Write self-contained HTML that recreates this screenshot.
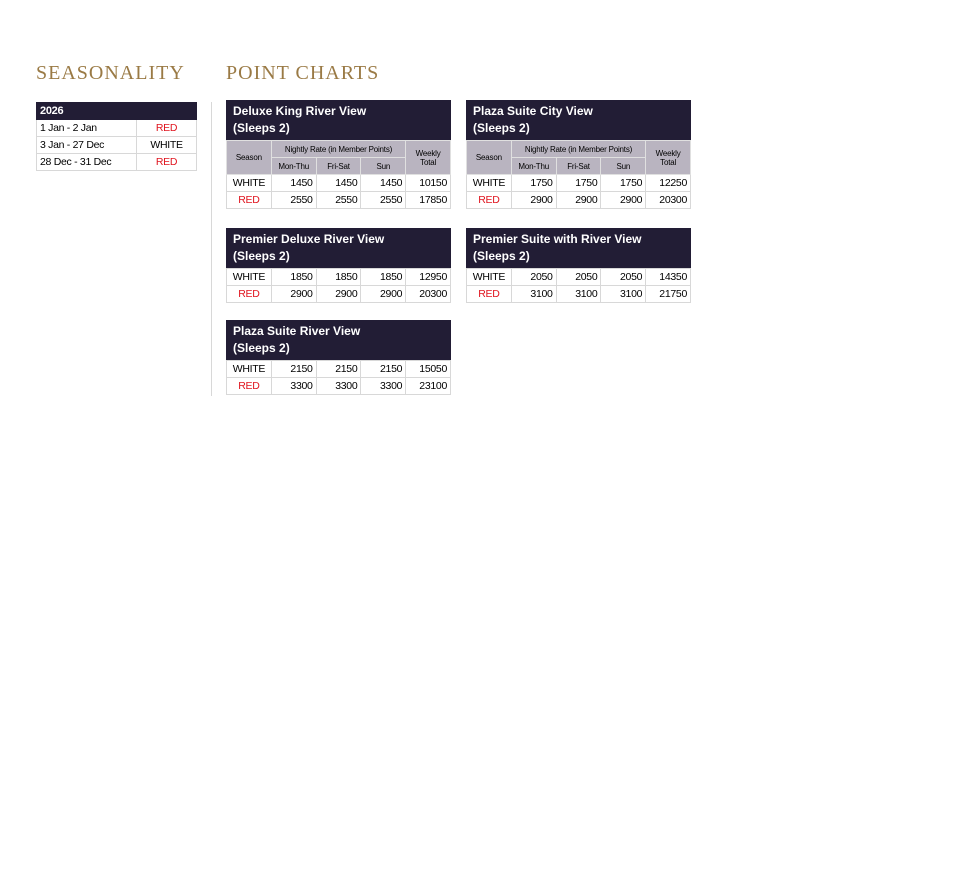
<!DOCTYPE html>
<html><head><meta charset="utf-8"><style>
body{margin:0;width:965px;height:876px;background:#fff;position:relative;font-family:"Liberation Sans",Arial,sans-serif;overflow:hidden}
.h{position:absolute;top:62px;font-family:"Liberation Serif",serif;color:#9a7a45;font-size:20px;letter-spacing:1px}
.c{position:absolute;width:225px}
.t{background:#221d35;color:#fff;font-weight:bold;font-size:12px;line-height:17px;height:40px;box-sizing:border-box;padding:3px 0 0 7px}
table{border-collapse:collapse;table-layout:fixed;width:225px}
td{border:1px solid #d8d8d8;font-size:10.5px;height:16px;padding:0 3px;text-align:right;color:#000;letter-spacing:-0.3px}
td.s{text-align:center}
.r{color:#e0141e}
.g td{background:#b9b4c0;border:1px solid #e0e0e0;text-align:center;font-size:8px;height:16px;letter-spacing:-0.2px}
</style></head><body>
<div class="h" style="left:36px">SEASONALITY</div>
<div class="h" style="left:226px">POINT CHARTS</div>
<div style="position:absolute;left:211px;top:102px;width:1px;height:294px;background:#d8d8d8"></div>

<table style="position:absolute;left:36px;top:102px;width:160px">
<col style="width:100px"><col style="width:60px">
<tr><td colspan="2" style="background:#221d35;color:#fff;font-weight:bold;font-size:11px;text-align:left;border-color:#221d35">2026</td></tr>
<tr><td style="text-align:left">1 Jan - 2 Jan</td><td class="s r">RED</td></tr>
<tr><td style="text-align:left">3 Jan - 27 Dec</td><td class="s">WHITE</td></tr>
<tr><td style="text-align:left">28 Dec - 31 Dec</td><td class="s r">RED</td></tr>
</table>

<div class="c" style="left:226px;top:100px">
<div class="t">Deluxe King River View<br>(Sleeps 2)</div>
<table><tr class="g"><td rowspan="2">Season</td><td colspan="3">Nightly Rate (in Member Points)</td><td rowspan="2">Weekly<br>Total</td></tr>
<tr class="g"><td>Mon-Thu</td><td>Fri-Sat</td><td>Sun</td></tr>
<tr><td class="s">WHITE</td><td>1450</td><td>1450</td><td>1450</td><td>10150</td></tr>
<tr><td class="s r">RED</td><td>2550</td><td>2550</td><td>2550</td><td>17850</td></tr></table>
</div>

<div class="c" style="left:466px;top:100px">
<div class="t">Plaza Suite City View<br>(Sleeps 2)</div>
<table><tr class="g"><td rowspan="2">Season</td><td colspan="3">Nightly Rate (in Member Points)</td><td rowspan="2">Weekly<br>Total</td></tr>
<tr class="g"><td>Mon-Thu</td><td>Fri-Sat</td><td>Sun</td></tr>
<tr><td class="s">WHITE</td><td>1750</td><td>1750</td><td>1750</td><td>12250</td></tr>
<tr><td class="s r">RED</td><td>2900</td><td>2900</td><td>2900</td><td>20300</td></tr></table>
</div>

<div class="c" style="left:226px;top:228px">
<div class="t">Premier Deluxe River View<br>(Sleeps 2)</div>
<table>
<tr><td class="s">WHITE</td><td>1850</td><td>1850</td><td>1850</td><td>12950</td></tr>
<tr><td class="s r">RED</td><td>2900</td><td>2900</td><td>2900</td><td>20300</td></tr></table>
</div>

<div class="c" style="left:466px;top:228px">
<div class="t">Premier Suite with River View<br>(Sleeps 2)</div>
<table>
<tr><td class="s">WHITE</td><td>2050</td><td>2050</td><td>2050</td><td>14350</td></tr>
<tr><td class="s r">RED</td><td>3100</td><td>3100</td><td>3100</td><td>21750</td></tr></table>
</div>

<div class="c" style="left:226px;top:320px">
<div class="t">Plaza Suite River View<br>(Sleeps 2)</div>
<table>
<tr><td class="s">WHITE</td><td>2150</td><td>2150</td><td>2150</td><td>15050</td></tr>
<tr><td class="s r">RED</td><td>3300</td><td>3300</td><td>3300</td><td>23100</td></tr></table>
</div>
</body></html>
